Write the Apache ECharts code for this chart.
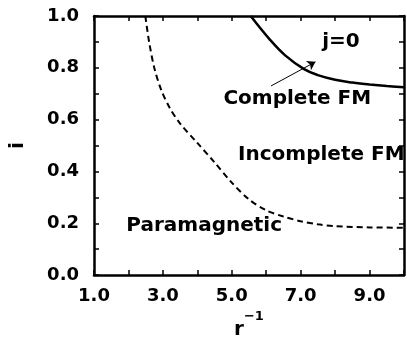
<!DOCTYPE html>
<html>
<head>
<meta charset="utf-8">
<script src="https://cdn.jsdelivr.net/npm/echarts@6/dist/echarts.min.js"></script>
<style>
  html, body { margin: 0; padding: 0; background: #fff; }
  #chart { width: 407px; height: 345px; }
</style>
</head>
<body>
<div id="chart"></div>
<script>
// boundary between complete FM and incomplete FM (solid)
var completeLine = [
  [5.55, 1.0], [6.1, 0.91], [6.55, 0.848], [7.1, 0.795], [7.5, 0.772],
  [8.0, 0.754], [8.5, 0.743], [9.0, 0.736], [9.5, 0.73], [10.0, 0.725]
];
// boundary between incomplete FM and paramagnetic (dashed)
var paraLine = [
  [2.49, 1.0], [2.6, 0.9], [2.75, 0.8], [2.95, 0.715], [3.2, 0.645],
  [3.5, 0.585], [4.0, 0.51], [4.5, 0.435], [5.0, 0.357], [5.5, 0.292],
  [6.0, 0.25], [6.5, 0.226], [7.0, 0.208], [7.5, 0.196], [8.0, 0.189],
  [9.0, 0.184], [10.0, 0.183]
];
// text labels placed in data units [r^-1, i]
var notes = [
  { text: 'j=0', at: [8.17, 0.9] },
  { text: 'Complete FM', at: [6.9, 0.68] },
  { text: 'Incomplete FM', at: [7.6, 0.465] },
  { text: 'Paramagnetic', at: [4.2, 0.19] }
];
var arrowFrom = [6.14, 0.73];
var arrowTo = [7.43, 0.823];

var font = 'DejaVu Sans';
var chart = echarts.init(document.getElementById('chart'));

var frameLine = { show: true, onZero: false, lineStyle: { color: '#000', width: 2.5 } };
var inTick = { show: true, inside: true, length: 5, lineStyle: { color: '#000', width: 1.5 } };

chart.setOption({
  animation: false,
  grid: { left: 91, right: 2, top: 16, bottom: 63 },
  xAxis: [
    {
      type: 'value', min: 1, max: 10, interval: 1,
      axisLine: frameLine, axisTick: inTick, splitLine: { show: false },
      axisLabel: {
        margin: 12, color: '#000', fontFamily: font, fontWeight: 'bold', fontSize: 18,
        formatter: function(v) {
          return Math.round(v) % 2 === 1 ? v.toFixed(1) : '';
        }
      },
      name: '{r|r}{s|−1}', nameLocation: 'middle', nameGap: 22,
      nameTextStyle: {
        color: '#000', fontFamily: font, fontWeight: 'bold',
        rich: {
          r: { fontSize: 20, fontFamily: font, fontWeight: 'bold', verticalAlign: 'bottom', lineHeight: 30 },
          s: { fontSize: 13, fontFamily: font, fontWeight: 'bold', verticalAlign: 'top', lineHeight: 30 }
        }
      }
    },
    {
      type: 'value', position: 'top', min: 1, max: 10, interval: 1,
      axisLine: frameLine, axisTick: inTick, axisLabel: { show: false }, splitLine: { show: false }
    }
  ],
  yAxis: [
    {
      type: 'value', min: 0, max: 1, interval: 0.1,
      axisLine: frameLine, axisTick: inTick, splitLine: { show: false },
      axisLabel: {
        margin: 15, color: '#000', fontFamily: font, fontWeight: 'bold', fontSize: 18,
        formatter: function(v) {
          return Math.round(v * 10) % 2 === 0 ? v.toFixed(1) : '';
        }
      },
      name: 'i', nameLocation: 'middle', nameGap: 66, nameRotate: 90,
      nameTextStyle: { color: '#000', fontFamily: font, fontWeight: 'bold', fontSize: 20 }
    },
    {
      type: 'value', position: 'right', min: 0, max: 1, interval: 0.1,
      axisLine: frameLine, axisTick: inTick, axisLabel: { show: false }, splitLine: { show: false }
    }
  ],
  series: [
    {
      name: 'complete', type: 'line', data: completeLine, smooth: 0.4,
      showSymbol: false, lineStyle: { color: '#000', width: 2.5 },
      markLine: {
        silent: true, symbol: ['none', 'arrow'], symbolSize: 8,
        label: { show: false },
        lineStyle: { color: '#000', width: 1, type: 'solid' },
        data: [[{ coord: arrowFrom }, { coord: arrowTo }]]
      }
    },
    {
      name: 'para', type: 'line', data: paraLine, smooth: 0.3,
      showSymbol: false, lineStyle: { color: '#000', width: 2, type: [6, 4] }
    }
  ]
});

// annotation texts, positioned through the axes
chart.setOption({
  graphic: notes.map(function(n) {
    var p = chart.convertToPixel({ gridIndex: 0 }, n.at);
    return {
      type: 'text', x: p[0], y: p[1],
      style: {
        text: n.text, fill: '#000', font: 'bold 20px "DejaVu Sans"',
        textAlign: 'center', textVerticalAlign: 'middle'
      }
    };
  })
});
</script>
</body>
</html>
